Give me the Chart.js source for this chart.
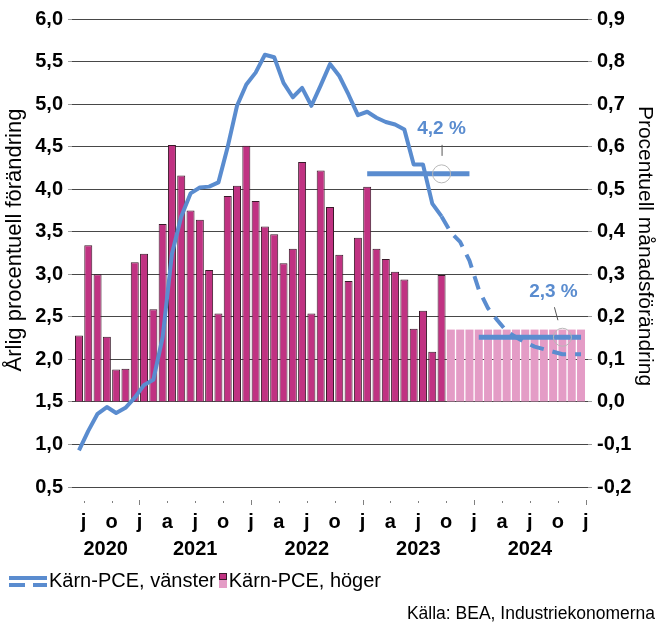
<!DOCTYPE html>
<html>
<head>
<meta charset="utf-8">
<script src="https://cdn.jsdelivr.net/npm/chart.js@4.4.0/dist/chart.umd.min.js"></script>
<style>
html,body{margin:0;padding:0;background:#fff;}
#wrap{position:relative;width:660px;height:628px;overflow:hidden;}
#c{position:absolute;left:0;top:0;}
#legend{position:absolute;left:9px;top:569px;font-family:"Liberation Sans",Arial,sans-serif;font-size:20px;color:#000;display:flex;align-items:center;white-space:nowrap;}
.licon{position:relative;width:38px;height:14px;margin-right:2px;}
.licon .solid{position:absolute;left:0;top:2px;width:38px;height:4px;background:#5a8ccf;}
.licon .d1{position:absolute;left:0;top:9px;width:16px;height:4px;background:#5a8ccf;}
.licon .d2{position:absolute;left:24px;top:9px;width:14px;height:4px;background:#5a8ccf;}
.bicon{position:relative;width:8px;height:15px;margin-left:3px;margin-right:2px;}
.bicon .top{position:absolute;left:0;top:0;width:6px;height:5px;background:#c03282;border:1px solid #3a1a2a;}
.bicon .bot{position:absolute;left:0;top:7px;width:8px;height:8px;background:#e49cc6;}
#source{position:absolute;right:5px;top:603px;font-family:"Liberation Sans",Arial,sans-serif;font-size:17.5px;color:#000;white-space:nowrap;}
</style>
</head>
<body>
<div id="wrap">
<canvas id="c" width="660" height="628"></canvas>
<div id="legend"><div class="licon"><div class="solid"></div><div class="d1"></div><div class="d2"></div></div><span>Kärn-PCE, vänster</span><div class="bicon"><div class="top"></div><div class="bot"></div></div><span>Kärn-PCE, höger</span></div>
<div id="source">Källa: BEA, Industriekonomerna</div>
</div>
<script>
// ---- Data (monthly, starting June 2020) ----
const firstYear = 2020;
const firstMonth = 5; // June (0-based)
const monthLetters = ['j','f','m','a','m','j','j','a','s','o','n','d'];
const yearLabels = ['2020','2021','2022','2023','2024'];

// Core PCE, annual % change (left axis), Jun 2020 - Sep 2023
const coreYoY = [0.93,1.16,1.36,1.44,1.37,1.43,1.55,
  1.70,1.76,2.26,3.24,3.68,3.95,4.02,4.03,4.08,4.50,4.98,5.23,
  5.37,5.58,5.55,5.25,5.08,5.19,4.98,5.22,5.47,5.33,5.11,4.87,
  4.91,4.84,4.79,4.76,4.70,4.29,4.29,3.83,3.68];
// Forecast, annual % change, Oct 2023 - Dec 2024
const coreYoYForecast = [3.49,3.38,3.16,2.82,2.60,2.46,2.33,2.26,2.20,2.15,2.12,2.09,2.06,2.06,2.06];

// Core PCE, monthly % change (right axis), Jun 2020 - Sep 2023
const coreMoM = [0.156,0.368,0.300,0.153,0.076,0.078,0.328,
  0.348,0.218,0.418,0.604,0.532,0.450,0.428,0.310,0.208,0.484,0.508,0.602,
  0.472,0.412,0.394,0.326,0.360,0.564,0.208,0.544,0.458,0.346,0.284,0.386,
  0.506,0.360,0.336,0.306,0.288,0.172,0.214,0.118,0.298];
// Forecast, monthly % change, Oct 2023 - Dec 2024
const coreMoMForecast = [0.17,0.17,0.17,0.17,0.17,0.17,0.17,0.17,0.17,0.17,0.17,0.17,0.17,0.17,0.17];

// Annual averages (left axis)
const avgYears = [2023, 2024];
const avgValues = [4.18, 2.26];
const avgLabels = ['4,2 %', '2,3 %'];
const avgMarkerMonth = [8, 9]; // Sep 2023, Oct 2024 (0-based month in year)

// Tick label values
const leftTicks = {min:0.5, max:6.0, step:0.5};
const rightTicks = {min:-0.2, max:0.9, step:0.1};

// ---- Build ----
const BLUE = '#5a8ccf';
const FONT = '"Liberation Sans", Arial, sans-serif';
const nAct = coreYoY.length;
const nAll = nAct + coreYoYForecast.length;
const idxOf = (year, month) => (year - firstYear) * 12 + month - firstMonth;

const yoyAll = coreYoY.concat(coreYoYForecast);
const linePts = yoyAll.map((v,i)=>({x:i+0.5, y:v}));
const barAct = coreMoM.map((v,i)=>({x:i+0.5, y:v}));
const barFc = coreMoMForecast.map((v,i)=>({x:nAct+i+0.5, y:v}));

function avgData(k){
  const y = avgYears[k];
  const pts = [];
  for (let m=0;m<12;m++){ pts.push({x: idxOf(y,m)+0.5, y: avgValues[k]}); }
  return pts;
}

const quarterTicks = [];
for (let v = 0; v <= nAll; v++){ if (((firstMonth+v)%12)%3===0) quarterTicks.push(v); }

const fmt = v => { if (Math.abs(v) < 1e-9) v = 0; return v.toFixed(1).replace('.', ','); };

const extras = {
  id: 'extras',
  afterDraw(chart){
    const {ctx, chartArea} = chart;
    const x = chart.scales.x;
    ctx.save();
    // x tick marks
    ctx.strokeStyle = '#808080'; ctx.lineWidth = 1;
    quarterTicks.forEach(v=>{
      const px = Math.round(x.getPixelForValue(v)) + 0.5;
      const jan = (firstMonth+v)%12===0;
      ctx.beginPath();
      ctx.moveTo(px, chartArea.bottom + (jan?13:14));
      ctx.lineTo(px, chartArea.bottom + (jan?18:16));
      ctx.stroke();
    });
    // years
    ctx.fillStyle = '#000';
    ctx.font = 'bold 20px ' + FONT;
    ctx.textAlign = 'center'; ctx.textBaseline = 'middle';
    yearLabels.forEach(t=>{
      const yr = +t;
      const a = Math.max(x.min, idxOf(yr,0));
      const b = Math.min(x.max, idxOf(yr+1,0));
      ctx.fillText(t, x.getPixelForValue((a+b)/2), chartArea.bottom + 62);
    });
    // axis titles
    ctx.save();
    ctx.font = '22px ' + FONT;
    ctx.translate(15, 240); ctx.rotate(-Math.PI/2);
    ctx.fillText('Årlig procentuell förändring', 0, 0);
    ctx.restore();
    ctx.save();
    ctx.font = '21px ' + FONT;
    ctx.translate(645, 246); ctx.rotate(Math.PI/2);
    ctx.fillText('Procentuell månadsförändring', 0, 0);
    ctx.restore();
    // annotation labels
    ctx.font = 'bold 19px ' + FONT;
    ctx.fillStyle = BLUE;
    [0,1].forEach(k=>{
      const meta = chart.getDatasetMeta(3+k);
      const p = meta.data[avgMarkerMonth[k]];
      const cx = p.x, cy = p.y;
      ctx.strokeStyle = '#555'; ctx.lineWidth = 1;
      ctx.beginPath();
      if (k===0){
        ctx.moveTo(cx+0.5, cy-29); ctx.lineTo(cx+0.5, cy-18);
        ctx.stroke();
        ctx.fillText(avgLabels[k], cx, cy-45);
      } else {
        ctx.moveTo(cx-8, cy-30); ctx.lineTo(cx-4.5, cy-17);
        ctx.stroke();
        ctx.fillText(avgLabels[k], cx-9, cy-45);
      }
    });
    ctx.restore();
  }
};

new Chart(document.getElementById('c'), {
  data: {
    datasets: [
      { type:'line', label:'Kärn-PCE, vänster', data: linePts, yAxisID:'y', order:1,
        borderColor: BLUE, borderWidth: 4, pointRadius: 0, tension: 0, fill:false,
        borderCapStyle:'butt', borderJoinStyle:'round',
        segment: { borderDash: ctx => ctx.p0DataIndex >= nAct-1 ? [14,9] : undefined } },
      { type:'bar', label:'Kärn-PCE, höger', data: barAct, yAxisID:'y1', order:3, grouped:false,
        backgroundColor:'#c03282', borderColor:'#3a1a2a', borderWidth:1,
        categoryPercentage:1, barPercentage:0.86 },
      { type:'bar', label:'Kärn-PCE, höger prognos', data: barFc, yAxisID:'y1', order:4, grouped:false,
        backgroundColor:'#e49cc6', borderWidth:0,
        categoryPercentage:1, barPercentage:0.86 },
      { type:'line', label:'Snitt 2023', data: avgData(0), yAxisID:'y', order:0,
        borderColor: BLUE, borderWidth: 5, tension:0, fill:false, borderCapStyle:'butt',
        pointRadius: c => c.dataIndex===avgMarkerMonth[0] ? 9 : 0,
        pointBorderColor:'#b8b8b8', pointBackgroundColor:'rgba(0,0,0,0)', pointBorderWidth:1 },
      { type:'line', label:'Snitt 2024', data: avgData(1), yAxisID:'y', order:0,
        borderColor: BLUE, borderWidth: 5, tension:0, fill:false, borderCapStyle:'butt',
        pointRadius: c => c.dataIndex===avgMarkerMonth[1] ? 9 : 0,
        pointBorderColor:'#b8b8b8', pointBackgroundColor:'rgba(0,0,0,0)', pointBorderWidth:1 }
    ]
  },
  options: {
    responsive:false, animation:false, events:[],
    layout:{ padding:{ top:19, left:0, right:0, bottom:0 } },
    plugins:{ legend:{display:false}, tooltip:{enabled:false} },
    scales:{
      x:{ type:'linear', position:'bottom', offset:false, min:-0.25, max:nAll+0.25,
        afterBuildTicks: s => { s.ticks = quarterTicks.map(v=>({value:v})); },
        afterFit: s => { s.height = 141; },
        grid:{ display:false, offset:false }, border:{ display:false },
        ticks:{ autoSkip:false, maxRotation:0, padding:15, color:'#000',
          font:{ family:FONT, size:20, weight:'bold' },
          callback: v => monthLetters[(firstMonth+v)%12] } },
      y:{ type:'linear', position:'left', min:leftTicks.min, max:leftTicks.max,
        afterFit: s => { s.width = 72; },
        border:{ display:false },
        grid:{ color:'#474747', lineWidth:1, tickLength:4, tickColor:'#9a9a9a' },
        ticks:{ stepSize:leftTicks.step, padding:5, color:'#000',
          font:{ family:FONT, size:20, weight:'bold' }, callback: v => fmt(v) } },
      y1:{ type:'linear', position:'right', min:rightTicks.min, max:rightTicks.max,
        afterFit: s => { s.width = 72; },
        border:{ display:false },
        grid:{ drawOnChartArea:false, tickLength:4, tickColor:'#9a9a9a' },
        ticks:{ stepSize:rightTicks.step, padding:5, color:'#000',
          font:{ family:FONT, size:20, weight:'bold' }, callback: v => fmt(v) } }
    }
  },
  plugins:[extras]
});
</script>
</body>
</html>
